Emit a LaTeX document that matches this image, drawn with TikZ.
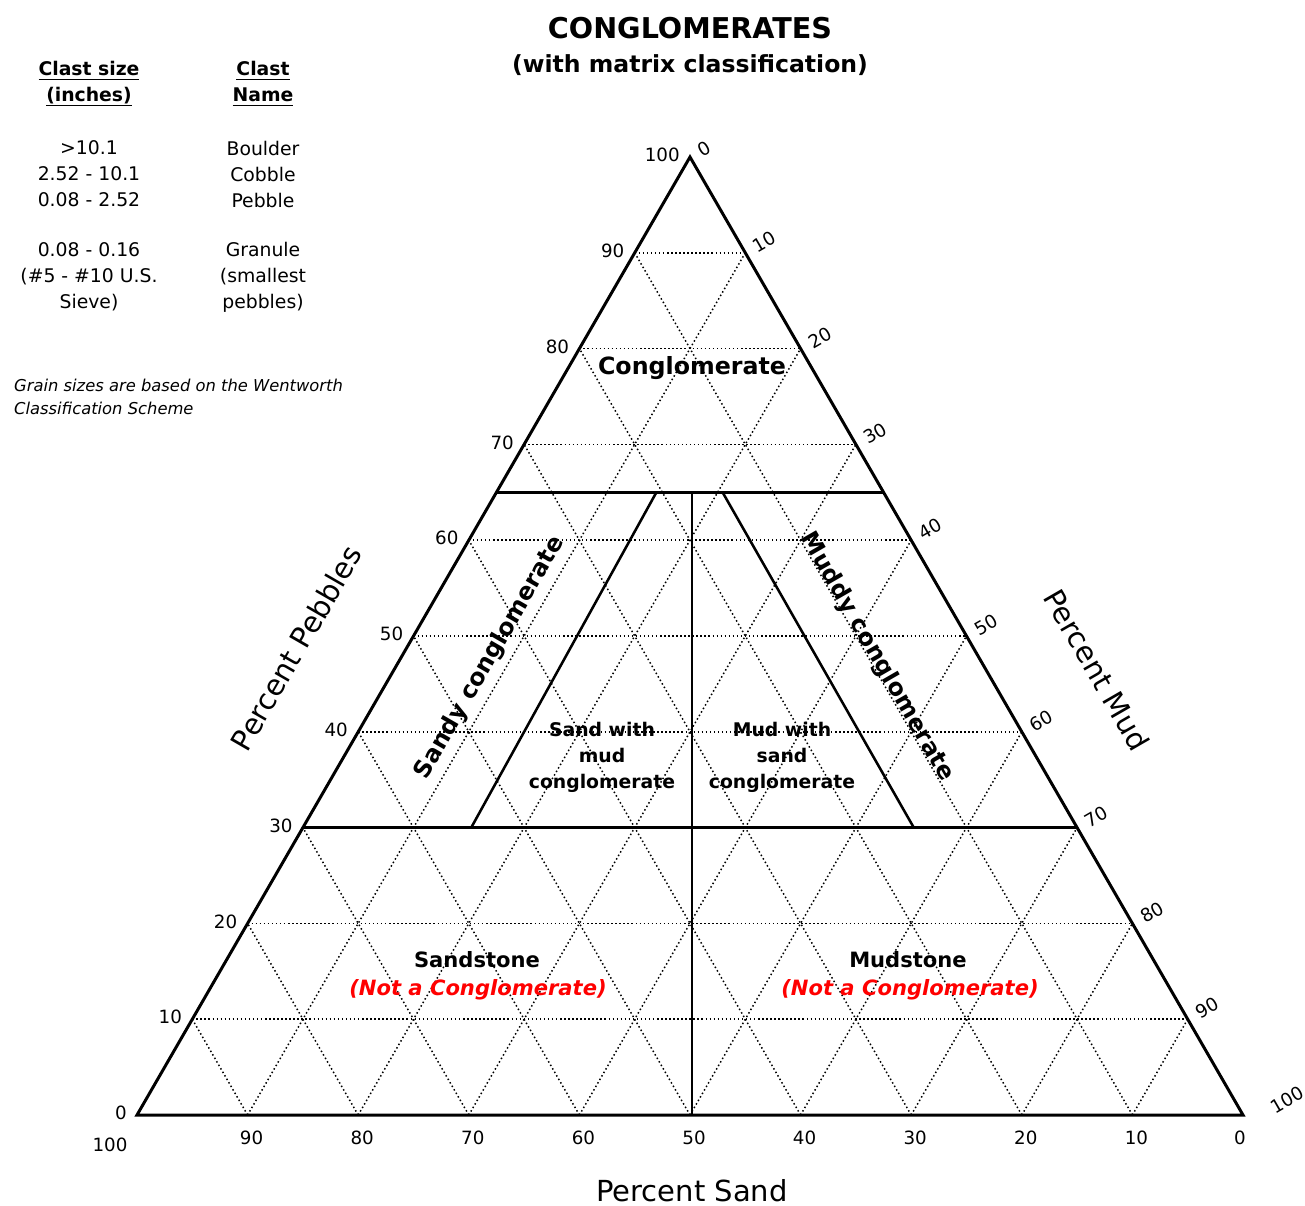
\documentclass[tikz,border=0pt]{standalone}
\usepackage{fontspec}
\setmainfont{DejaVu Sans}
\usetikzlibrary{calc}

\newcommand\uln[1]{\setbox0=\hbox{#1}\rlap{\rule[-2.6pt]{\wd0}{1.1pt}}\box0}

\begin{document}
\begin{tikzpicture}[x=0.02cm, y=-0.02cm]

% definitions
\tikzstyle{rim} = [line width=1.7pt, line join=miter]
\tikzstyle{bound} = [line width=1.45pt]
\tikzstyle{gridline} = [line width=0.85pt, dash pattern=on 0.85pt off 1.45pt]
\tikzstyle{ticklabel} = [inner sep=0pt, font=\fontsize{10.4}{12}\selectfont]
\tikzstyle{axislabel} = [font=\fontsize{16.5}{20}\selectfont]
\tikzstyle{regionlabel} = [font=\bfseries\fontsize{13.5}{16}\selectfont]
\tikzstyle{fieldlabel} = [align=center, font=\bfseries\fontsize{10.7}{14.8}\selectfont]
\tikzstyle{rednote} = [text=red, font=\bfseries\itshape\fontsize{12}{14}\selectfont]
\tikzstyle{tablelabel} = [align=center, font=\fontsize{10.7}{14.8}\selectfont]

\useasboundingbox (0,0) rectangle (1305,1205);

% corners
\coordinate (sand) at (137,1115);
\coordinate (mud) at (1243,1115);
\coordinate (peb) at (690,157);


% dotted grid
\foreach \k in {1,...,9} {
  \draw [gridline] ($(sand)!\k/10!(peb)$) -- ($(mud)!\k/10!(peb)$);
  \draw [gridline] ($(sand)!\k/10!(mud)$) -- ($(peb)!\k/10!(mud)$);
  \draw [gridline] ($(mud)!\k/10!(sand)$) -- ($(peb)!\k/10!(sand)$);
}


% class boundaries
\coordinate (l65) at ($(sand)!0.65!(peb)$);
\coordinate (r65) at ($(mud)!0.65!(peb)$);
\coordinate (l30) at ($(sand)!0.3!(peb)$);
\coordinate (r30) at ($(mud)!0.3!(peb)$);
\coordinate (half) at (692,1115);
\coordinate (sw1) at (471,828);
\coordinate (sw2) at (656,493);
\coordinate (mw1) at (723,493);
\coordinate (mw2) at (914,828);

\draw [bound] (l65) -- (r65);
\draw [bound] (l30) -- (r30);
\draw [bound] (half) -- (half |- l65);
\draw [bound] (sw1) -- (sw2);
\draw [bound] (mw1) -- (mw2);

\draw [rim] (sand) -- (mud) -- (peb) -- cycle;


% scale numbers
\foreach \k [evaluate=\k as \v using int(10*\k)] in {0,...,10} {
  \node (p\k) [ticklabel, anchor=east] at ($(sand)!\k/10!(peb) + (-10,-2)$) {\v};
}
\foreach \k [evaluate=\k as \v using int(10*\k)] in {0,...,9} {
  \node (m\k) [ticklabel, anchor=west, rotate=30] at ($(peb)!\k/10!(mud) + (9,-5)$) {\v};
}
\foreach \k [evaluate=\k as \v using int(10*\k)] in {1,...,9} {
  \node (s\k) [ticklabel, anchor=north] at ($(mud)!\k/10!(sand) + (4,16)$) {\v};
}
\node (m10) [ticklabel, rotate=30] at (1287,1100) {100};
\node (s0) [ticklabel] at (1240,1138) {0};
\node (s10) [ticklabel] at (110,1145) {100};


% axis names
\node (pebaxis) [axislabel, rotate=60] at (296,648) {Percent Pebbles};
\node (mudaxis) [axislabel, rotate=-60] at (1097,670) {Percent Mud};
\node (sandaxis) [axislabel] at (692,1191) {Percent Sand};


% classes
\node (cong) [regionlabel] at (692,368) {Conglomerate};
\node (sandy) [regionlabel, rotate=60] at (490,658) {Sandy conglomerate};
\node (muddy) [regionlabel, rotate=-60] at (877,657) {Muddy conglomerate};
\node (swm) [fieldlabel] at (602,757) {Sand with\\mud\\conglomerate};
\node (mws) [fieldlabel] at (782,757) {Mud with\\sand\\conglomerate};
\node (sst) [regionlabel, font=\bfseries\fontsize{12}{14}\selectfont] at (477,960) {Sandstone};
\node (sstnote) [rednote] at (478,990) {(Not a Conglomerate)};
\node (mst) [regionlabel, font=\bfseries\fontsize{12}{14}\selectfont] at (908,960) {Mudstone};
\node (mstnote) [rednote] at (910,990) {(Not a Conglomerate)};


% title
\node (title) [font=\bfseries\fontsize{16.3}{20}\selectfont] at (690,28) {CONGLOMERATES};
\node (subtitle) [font=\bfseries\fontsize{13.4}{16}\selectfont] at (690,65) {(with matrix classification)};


% clast table
\node (sizehead) [tablelabel, font=\bfseries\fontsize{10.7}{14.8}\selectfont] at (89,84) {\uln{Clast size}\\\uln{(inches)}};
\node (namehead) [tablelabel, font=\bfseries\fontsize{10.7}{14.8}\selectfont] at (263,84) {\uln{Clast}\\\uln{Name}};
\node (sizes) [tablelabel] at (89,174) {>10.1\\2.52 - 10.1\\0.08 - 2.52};
\node (names) [tablelabel] at (263,174) {Boulder\\Cobble\\Pebble};
\node (gsize) [tablelabel] at (89,277) {0.08 - 0.16\\(\#5 - \#10 U.S.\\Sieve)};
\node (gname) [tablelabel] at (263,277) {Granule\\(smallest\\pebbles)};
\node (source) [anchor=west, align=left, font=\itshape\fontsize{9.3}{13}\selectfont] at (8,397) {Grain sizes are based on the Wentworth\\Classification Scheme};

\end{tikzpicture}
\end{document}
